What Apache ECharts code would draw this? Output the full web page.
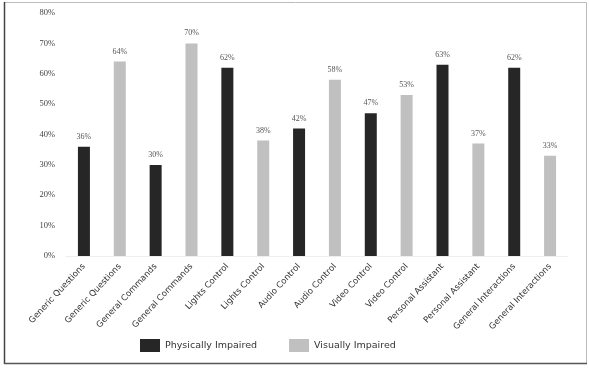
<!DOCTYPE html>
<html><head><meta charset="utf-8">
<script src="https://cdn.jsdelivr.net/npm/echarts@6/dist/echarts.min.js"></script>
<style>html,body{margin:0;padding:0;background:#fff}#c{width:589px;height:369px}</style>
</head><body><div id="c"></div>
<script>
var categories = ["Generic Questions","Generic Questions","General Commands","General Commands","Lights Control","Lights Control","Audio Control","Audio Control","Video Control","Video Control","Personal Assistant","Personal Assistant","General Interactions","General Interactions"];
var physicallyImpaired = [36, null, 30, null, 62, null, 42, null, 47, null, 63, null, 62, null];
var visuallyImpaired = [null, 64, null, 70, null, 38, null, 58, null, 53, null, 37, null, 33];
var yTicks = [0, 10, 20, 30, 40, 50, 60, 70, 80];

var chart = echarts.init(document.getElementById('c'));
var font = 'DejaVu Sans';
var lbl = {show: true, position: 'top', distance: 6, formatter: function(p){return p.value == null ? '' : p.value + '%';}, color: '#555', fontSize: 8, fontFamily: 'Liberation Serif'};
chart.setOption({
  animation: false,
  backgroundColor: '#fff',
  graphic: [{type: 'rect', shape: {x: 4.5, y: 2.5, width: 582, height: 361}, style: {fill: 'none', stroke: '#bbb', lineWidth: 1}, z: -1},
            {type: 'line', shape: {x1: 4.5, y1: 2, x2: 4.5, y2: 364}, style: {stroke: '#444', lineWidth: 1.5}},
            {type: 'line', shape: {x1: 4, y1: 363.5, x2: 587, y2: 363.5}, style: {stroke: '#555', lineWidth: 1.5}}],
  grid: {left: 66, right: 21, top: 13, bottom: 113},
  legend: {left: 135, bottom: 12, itemWidth: 20, itemHeight: 13, itemGap: 32, icon: 'rect',
    textStyle: {fontSize: 9.5, color: '#333', fontFamily: font},
    data: ['Physically Impaired', 'Visually Impaired']},
  xAxis: {type: 'category', data: categories,
    axisLine: {show: true, lineStyle: {color: '#eee'}}, axisTick: {show: false},
    axisLabel: {rotate: 47, interval: 0, fontSize: 8.5, color: '#333', fontFamily: font, margin: 9}},
  yAxis: {type: 'value', min: 0, max: 80, interval: 10,
    axisLabel: {formatter: function(v){return yTicks.indexOf(v) >= 0 ? v + '%' : '';}, fontSize: 8.5, color: '#444', fontFamily: 'Liberation Serif', margin: 11},
    splitLine: {show: false}, axisLine: {show: false}, axisTick: {show: false}},
  series: [
    {name: 'Physically Impaired', type: 'bar', stack: 's', data: physicallyImpaired, barWidth: 12, itemStyle: {color: '#262626'}, label: lbl},
    {name: 'Visually Impaired', type: 'bar', stack: 's', data: visuallyImpaired, barWidth: 12, itemStyle: {color: '#c0c0c0'}, label: lbl}
  ]
});
</script></body></html>
